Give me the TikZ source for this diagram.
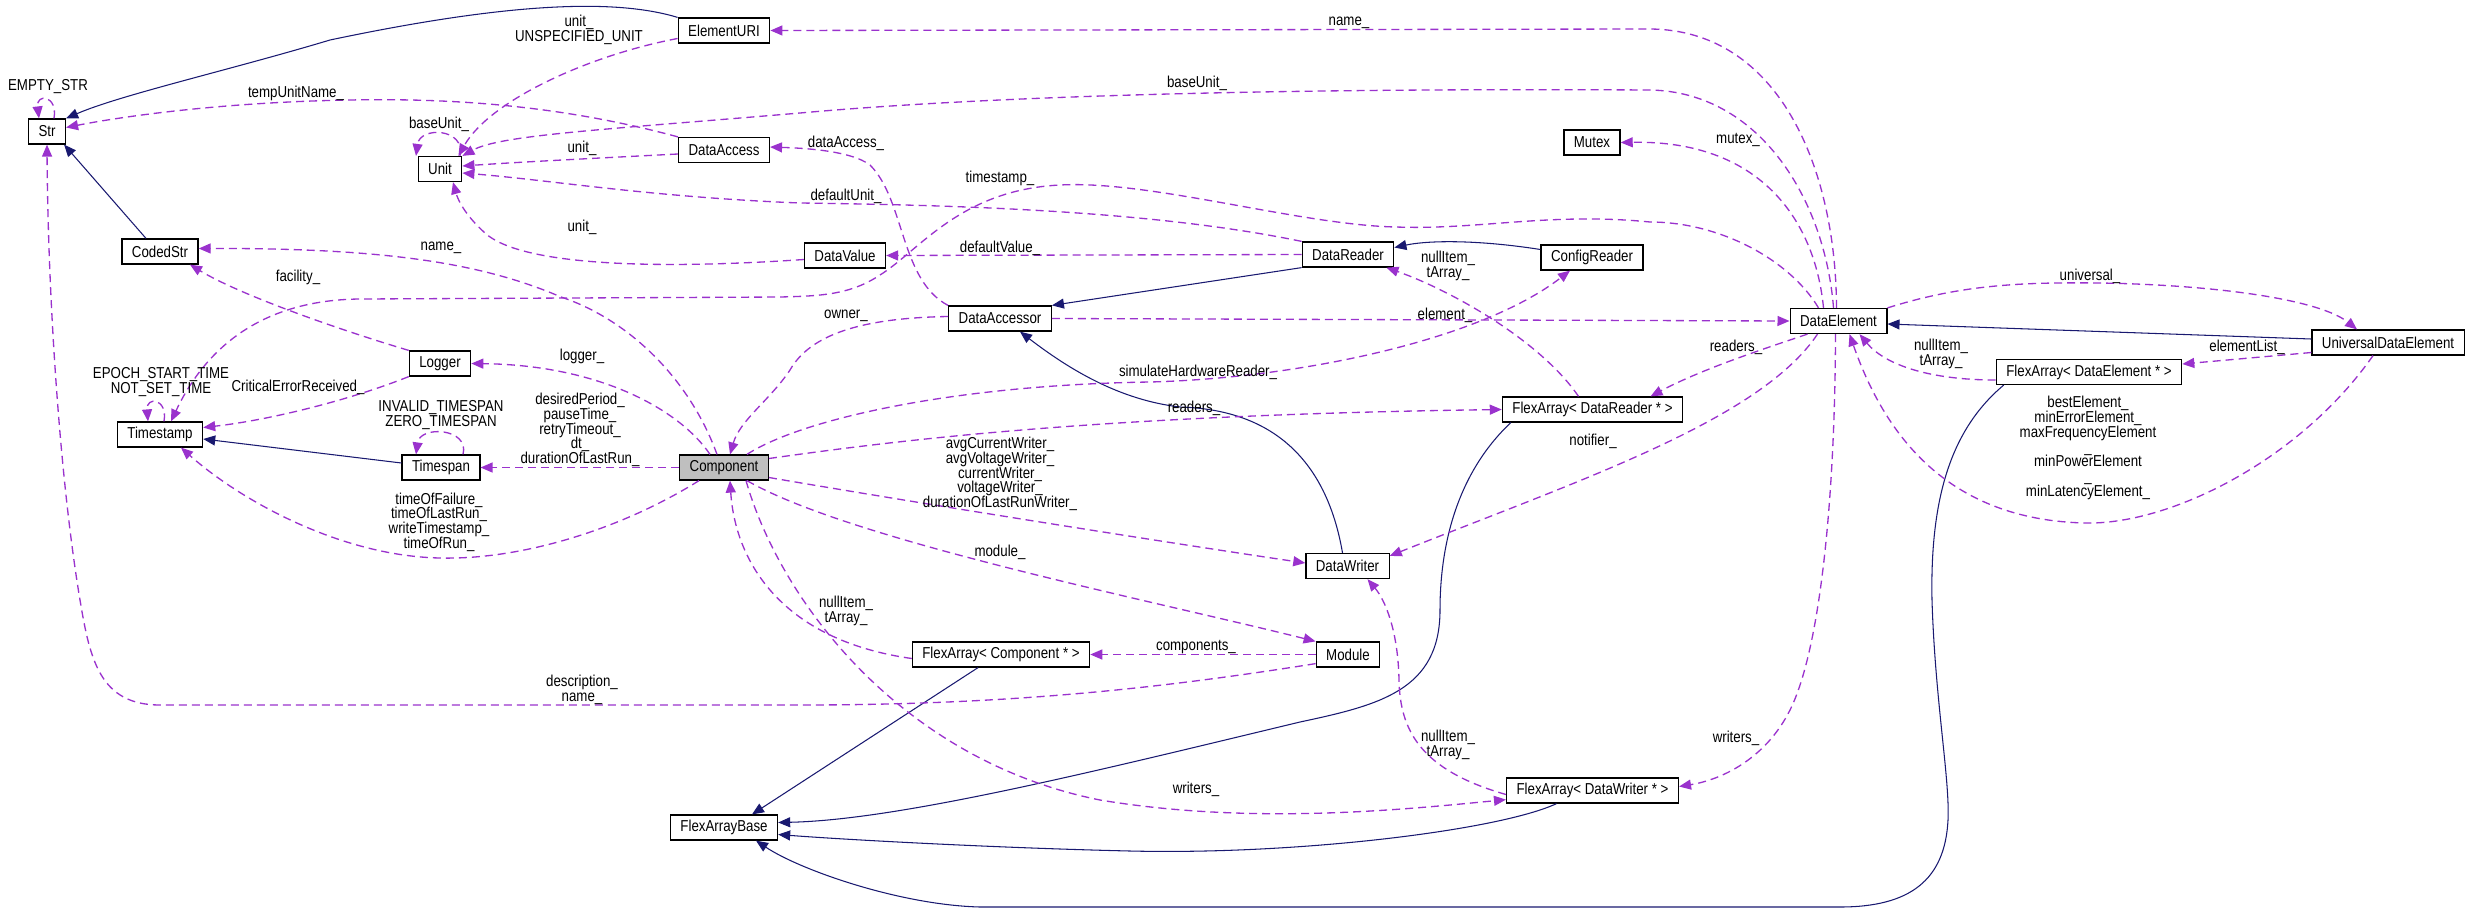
\documentclass[tikz,border=0pt]{standalone}
\usepackage{fontspec}
\setmainfont{Liberation Sans}[FakeStretch=0.84]
\usepackage{xcolor}
\usetikzlibrary{arrows.meta,calc}
\definecolor{usecol}{RGB}{154,50,205}
\definecolor{inhcol}{RGB}{25,25,112}
\tikzset{
  cls/.style={draw,line width=0.7pt,minimum height=5mm,inner xsep=2mm,inner ysep=0pt,font=\fontsize{9}{8.4}\selectfont},
  cur/.style={cls,fill=black!25},
  usage/.style={usecol,line width=0.75pt,dash pattern=on 1.6mm off 1.0mm,-{Triangle[length=2.4mm,width=2mm]}},
  inh/.style={inhcol,line width=0.6pt,-{Triangle[length=2.4mm,width=2mm]}},
  lbl/.style={align=center,inner sep=0pt,font=\fontsize{9}{8.4}\selectfont}
}

\begin{document}
\begin{tikzpicture}[x=0.2mm,y=-0.2mm]
\useasboundingbox (0,0) rectangle (2471,913);
\node[cls] (str) at (47,131.5) {Str};
\node[cls] (elementuri) at (724,30.5) {ElementURI};
\node[cls] (unit) at (440,169) {Unit};
\node[cls] (dataaccess) at (724,150) {DataAccess};
\node[cls] (codedstr) at (160,251.5) {CodedStr};
\node[cls] (logger) at (440,363.5) {Logger};
\node[cls] (timestamp) at (160,434.5) {Timestamp};
\node[cls] (timespan) at (441,467.5) {Timespan};
\node[cur] (component) at (724,467.5) {Component};
\node[cls] (flexarraybase) at (724,827.5) {FlexArrayBase};
\node[cls] (mutex) at (1592,142.5) {Mutex};
\node[cls] (datavalue) at (845,255.5) {DataValue};
\node[cls] (datareader) at (1348,254.5) {DataReader};
\node[cls] (configreader) at (1592,257.5) {ConfigReader};
\node[cls] (dataaccessor) at (1000,318.5) {DataAccessor};
\node[cls] (fareader) at (1592.5,409.5) {FlexArray< DataReader * >};
\node[cls] (datawriter) at (1347.5,566) {DataWriter};
\node[cls] (facomponent) at (1001,654.5) {FlexArray< Component * >};
\node[cls] (module) at (1348,654.5) {Module};
\node[cls] (fawriter) at (1592.5,790.5) {FlexArray< DataWriter * >};
\node[cls] (dataelement) at (1838.5,321) {DataElement};
\node[cls] (universal) at (2388,342.5) {UniversalDataElement};
\node[cls] (faelement) at (2089,372) {FlexArray< DataElement * >};

\draw[inh] (elementuri.north west) .. controls (620,0) and (520,0) .. (330,40) .. controls (230,70) and (120,95) .. (str.north east);
\draw[inh] ($(codedstr.north)+(-14,0)$) -- ($(str.south east)+(-2,0)$);
\draw[inh] ($(timespan.west)+(0,-4.5)$) -- ($(timestamp.east)+(0,4.5)$);
\draw[inh] (datareader.south west) -- (dataaccessor.north east);
\draw[inh] ($(configreader.west)+(0,-8)$) .. controls (1480,240) and (1430,240) .. ($(datareader.east)+(0,-7)$);
\draw[inh] ($(datawriter.north)+(-5,0)$) .. controls (1330,480) and (1290,410) .. (1180,407) .. controls (1120,400) and (1070,370) .. ($(dataaccessor.south)+(20,0)$);
\draw[inh] ($(universal.west)+(0,-3.5)$) -- ($(dataelement.east)+(0,3)$);
\draw[inh] ($(facomponent.south)+(-23,0)$) -- ($(flexarraybase.north)+(28,0)$);
\draw[inh] ($(fareader.south west)+(9,0)$) .. controls (1450,480) and (1440,560) .. (1440,610) .. controls (1440,690) and (1380,705) .. (1300,722) .. controls (1100,770) and (900,820) .. ($(flexarraybase.east)+(0,-5)$);
\draw[inh] ($(fawriter.south)+(-36,0)$) .. controls (1500,830) and (1300,855) .. (1130,851) .. controls (1000,848) and (850,840) .. ($(flexarraybase.east)+(0,7)$);
\draw[inh] ($(faelement.south west)+(8,0)$) .. controls (1950,430) and (1930,500) .. (1932,600) .. controls (1935,700) and (1950,780) .. (1948,820) .. controls (1945,880) and (1910,907) .. (1840,907) -- (980,907) .. controls (900,905) and (800,870) .. ($(flexarraybase.south)+(32,0)$);

\draw[usage] ($(str.north)+(7,0)$) .. controls (58,95) and (36,93) .. ($(str.north)+(-8,0)$);
\draw[usage] (dataaccess.north west) .. controls (560,105) and (450,98) .. (350,100) .. controls (230,102) and (130,115) .. ($(str.east)+(0,-4)$);
\draw[usage] ($(elementuri.west)+(0,8)$) .. controls (590,55) and (490,100) .. ($(unit.north east)+(-4,0)$);
\draw[usage] ($(unit.north)+(20,0)$) .. controls (466,128) and (420,126) .. ($(unit.north)+(-24,0)$);
\draw[usage] ($(dataaccess.west)+(0,4)$) .. controls (600,158) and (520,162) .. ($(unit.east)+(0,-3)$);
\draw[usage] ($(dataelement.north)+(-5,0)$) .. controls (1825,200) and (1760,92) .. (1650,90) .. controls (1300,88) and (1000,95) .. (800,113) .. controls (600,130) and (500,135) .. (unit.north east);
\draw[usage] ($(dataelement.north)+(-2,0)$) .. controls (1836,170) and (1780,30) .. (1650,29) -- (elementuri.east);
\draw[usage] ($(dataelement.north)+(-15,0)$) .. controls (1815,220) and (1760,140) .. (mutex.east);
\draw[usage] ($(dataelement.north)+(-20,0)$) .. controls (1790,260) and (1720,222) .. (1650,222) .. controls (1550,212) and (1480,230) .. (1396,227) .. controls (1300,225) and (1150,180) .. (1060,185) .. controls (960,190) and (920,250) .. (880,275) .. controls (850,295) and (820,296) .. (780,297) -- (360,299) .. controls (250,300) and (200,360) .. ($(timestamp.north)+(11,0)$);
\draw[usage] (dataaccessor.north west) .. controls (900,280) and (905,200) .. (870,165) .. controls (850,150) and (800,148) .. ($(dataaccess.east)+(0,-3)$);
\draw[usage] (datareader.north west) .. controls (1150,210) and (950,205) .. (800,203) .. controls (650,197) and (550,180) .. ($(unit.east)+(0,4)$);
\draw[usage] ($(datavalue.west)+(0,4)$) .. controls (650,270) and (520,265) .. (485,233) .. controls (465,215) and (458,200) .. ($(unit.south)+(13,0)$);
\draw[usage] (datareader.west) -- (datavalue.east);
\draw[usage] (logger.north west) .. controls (340,330) and (240,295) .. ($(codedstr.south)+(30,0)$);
\draw[usage] ($(component.north)+(-7,0)$) .. controls (690,380) and (630,320) .. (561,297) .. controls (480,262) and (380,248) .. ($(codedstr.east)+(0,-3)$);
\draw[usage] (logger.south west) .. controls (350,400) and (270,420) .. ($(timestamp.east)+(0,-7)$);
\draw[usage] ($(timestamp.north)+(4,0)$) .. controls (168,398) and (146,396) .. ($(timestamp.north)+(-12,0)$);
\draw[usage] ($(component.north)+(-14,0)$) .. controls (680,410) and (600,365) .. (logger.east);
\draw[usage] ($(timespan.north)+(22,0)$) .. controls (470,428) and (420,425) .. ($(timespan.north)+(-25,0)$);
\draw[usage] (component.west) -- (timespan.east);
\draw[usage] ($(component.south west)+(20,0)$) .. controls (620,530) and (520,560) .. (440,558) .. controls (340,556) and (240,500) .. ($(timestamp.south)+(21,0)$);
\draw[usage] ($(dataaccessor.west)+(0,-2)$) .. controls (860,318) and (810,335) .. (790,370) .. controls (770,400) and (740,420) .. ($(component.north)+(6,0)$);
\draw[usage] (dataaccessor.east) -- (dataelement.west);
\draw[usage] ($(component.north east)+(-22,0)$) .. controls (800,420) and (950,385) .. (1150,382) .. controls (1300,378) and (1480,340) .. ($(configreader.south)+(-22,0)$);
\draw[usage] ($(component.east)+(0,-9)$) .. controls (900,440) and (1100,415) .. (fareader.west);
\draw[usage] ($(fareader.north)+(-14,0)$) .. controls (1540,340) and (1450,290) .. ($(datareader.south east)+(-8,0)$);
\draw[usage] ($(dataelement.south west)+(18,0)$) .. controls (1760,350) and (1700,370) .. ($(fareader.north)+(58,0)$);
\draw[usage] ($(dataelement.south west)+(28,0)$) .. controls (1760,420) and (1580,480) .. ($(datawriter.north east)+(0,3)$);
\draw[usage] ($(dataelement.south)+(-3,0)$) .. controls (1835,500) and (1820,650) .. (1790,710) .. controls (1765,760) and (1720,780) .. ($(fawriter.east)+(0,-4)$);
\draw[usage] ($(component.east)+(0,10)$) .. controls (900,500) and (1150,540) .. ($(datawriter.west)+(0,-3)$);
\draw[usage] ($(component.south east)+(-22,0)$) .. controls (850,540) and (1150,600) .. (module.north west);
\draw[usage] ($(facomponent.west)+(0,4)$) .. controls (780,640) and (735,560) .. ($(component.south)+(6,0)$);
\draw[usage] ($(component.south)+(22,0)$) .. controls (780,600) and (900,760) .. (1100,800) .. controls (1250,825) and (1400,810) .. ($(fawriter.south west)+(0,-4)$);
\draw[usage] (module.west) -- (facomponent.east);
\draw[usage] ($(module.south west)+(0,-4)$) .. controls (1150,690) and (1000,705) .. (800,705) -- (160,705) .. controls (100,705) and (90,660) .. (80,600) .. controls (60,480) and (48,300) .. (str.south);
\draw[usage] ($(fawriter.west)+(0,4)$) .. controls (1420,770) and (1400,730) .. (1399,680) .. controls (1398,630) and (1385,600) .. ($(datawriter.south)+(20,0)$);
\draw[usage] (dataelement.north east) .. controls (1960,285) and (2020,282) .. (2100,283) .. controls (2220,285) and (2320,300) .. ($(universal.north)+(-31,0)$);
\draw[usage] ($(faelement.west)+(0,8)$) .. controls (1930,380) and (1885,365) .. ($(dataelement.south east)+(-28,0)$);
\draw[usage] ($(universal.west)+(0,10)$) -- ($(faelement.east)+(0,-8)$);
\draw[usage] ($(universal.south)+(-15,0)$) .. controls (2300,460) and (2170,525) .. (2085,523) .. controls (1960,520) and (1890,450) .. ($(dataelement.south east)+(-38,0)$);

\node[lbl] (l-emptystr) at (48,87) {EMPTY\_STR};
\node[lbl] (l-tempunit) at (296,93) {tempUnitName\_};
\node[lbl] (l-unspec) at (579,30) {unit\_\\UNSPECIFIED\_UNIT};
\node[lbl] (l-baseunitself) at (439,124) {baseUnit\_};
\node[lbl] (l-unitacc) at (582,148) {unit\_};
\node[lbl] (l-unitval) at (582,227) {unit\_};
\node[lbl] (l-namecoded) at (441,248) {name\_};
\node[lbl] (l-facility) at (298,277) {facility\_};
\node[lbl] (l-epoch) at (161,382) {EPOCH\_START\_TIME\\NOT\_SET\_TIME};
\node[lbl] (l-critical) at (298,387) {CriticalErrorReceived\_};
\node[lbl] (l-logger) at (582,356) {logger\_};
\node[lbl] (l-timespanself) at (441,415) {INVALID\_TIMESPAN\\ZERO\_TIMESPAN};
\node[lbl] (l-periods) at (580,430) {desiredPeriod\_\\pauseTime\_\\retryTimeout\_\\dt\_\\durationOfLastRun\_};
\node[lbl] (l-times) at (439,522) {timeOfFailure\_\\timeOfLastRun\_\\writeTimestamp\_\\timeOfRun\_};
\node[lbl] (l-descr) at (582,690) {description\_\\name\_};
\node[lbl] (l-nameuri) at (1349,23) {name\_};
\node[lbl] (l-baseunit) at (1197,83) {baseUnit\_};
\node[lbl] (l-dataaccess) at (846,143) {dataAccess\_};
\node[lbl] (l-timestamp) at (1000,178) {timestamp\_};
\node[lbl] (l-defunit) at (846,196) {defaultUnit\_};
\node[lbl] (l-defvalue) at (1000,248) {defaultValue\_};
\node[lbl] (l-nullreader) at (1448,266) {nullItem\_\\tArray\_};
\node[lbl] (l-element) at (1445,315) {element\_};
\node[lbl] (l-owner) at (846,316) {owner\_};
\node[lbl] (l-simulate) at (1198,372) {simulateHardwareReader\_};
\node[lbl] (l-readers) at (1194,408) {readers\_};
\node[lbl] (l-notifier) at (1593,441) {notifier\_};
\node[lbl] (l-writersvar) at (1000,474) {avgCurrentWriter\_\\avgVoltageWriter\_\\currentWriter\_\\voltageWriter\_\\durationOfLastRunWriter\_};
\node[lbl] (l-module) at (1000,552) {module\_};
\node[lbl] (l-nullcomp) at (846,611) {nullItem\_\\tArray\_};
\node[lbl] (l-components) at (1196,647) {components\_};
\node[lbl] (l-nullwriter) at (1448,745) {nullItem\_\\tArray\_};
\node[lbl] (l-writers) at (1196,789) {writers\_};
\node[lbl] (l-mutex) at (1738,140) {mutex\_};
\node[lbl] (l-universal) at (2090,276) {universal\_};
\node[lbl] (l-readerselem) at (1736,347) {readers\_};
\node[lbl] (l-nullelem) at (1941,354) {nullItem\_\\tArray\_};
\node[lbl] (l-elemlist) at (2247,347) {elementList\_};
\node[lbl] (l-best) at (2088,448) {bestElement\_\\minErrorElement\_\\maxFrequencyElement\\\_\\minPowerElement\\\_\\minLatencyElement\_};
\node[lbl] (l-writerselem) at (1736,738) {writers\_};
\end{tikzpicture}
\end{document}
